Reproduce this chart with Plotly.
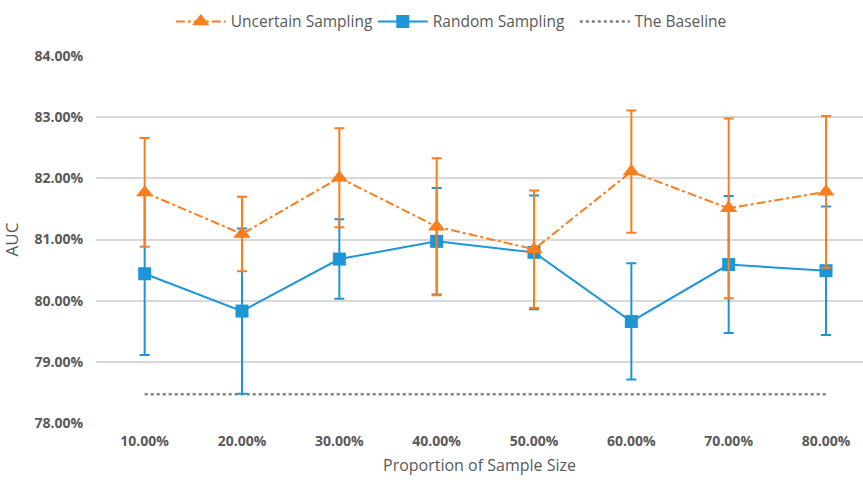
import plotly.graph_objects as go

categories = ["10.00%", "20.00%", "30.00%", "40.00%", "50.00%", "60.00%", "70.00%", "80.00%"]
uncertain = [81.77, 81.09, 82.01, 81.21, 80.84, 82.11, 81.51, 81.78]
uncertain_err = [0.89, 0.61, 0.81, 1.12, 0.96, 1.00, 1.47, 1.24]
random_s = [80.44, 79.83, 80.68, 80.97, 80.79, 79.66, 80.59, 80.49]
random_err = [1.33, 1.35, 0.65, 0.87, 0.93, 0.95, 1.12, 1.05]
baseline = [78.47] * 8
y_ticks = [78, 79, 80, 81, 82, 83, 84]
y_tick_labels = ["78.00%", "79.00%", "80.00%", "81.00%", "82.00%", "83.00%", "84.00%"]

ORANGE = "#FA7D1E"
BLUE = "#1E96D6"
GREY = "#7F7F7F"
TXT = "#595959"
FONT = "Open Sans"

fig = go.Figure()
fig.add_trace(go.Scatter(
    x=categories, y=baseline, name="The Baseline", mode="lines",
    line=dict(color=GREY, width=2.5, dash="dot"), legendrank=3))
fig.add_trace(go.Scatter(
    x=categories, y=random_s, name="Random Sampling", mode="lines+markers",
    line=dict(color=BLUE, width=2),
    marker=dict(symbol="square", size=13, color=BLUE),
    error_y=dict(type="data", array=random_err, color=BLUE, thickness=2, width=5),
    legendrank=2))
fig.add_trace(go.Scatter(
    x=categories, y=uncertain, name="Uncertain Sampling", mode="lines+markers",
    line=dict(color=ORANGE, width=2, dash="dashdot"),
    marker=dict(symbol="triangle-up", size=15, color=ORANGE),
    error_y=dict(type="data", array=uncertain_err, color=ORANGE, thickness=2, width=5),
    legendrank=1))

fig.update_layout(
    width=863, height=480,
    margin=dict(l=96, r=0, t=56, b=57),
    plot_bgcolor="white", paper_bgcolor="white",
    font=dict(family=FONT, size=14, color=TXT),
    showlegend=True,
    legend=dict(orientation="h", x=0.549, xanchor="center", y=0.99, yanchor="top",
                xref="container", yref="container",
                font=dict(size=15.5, color=TXT), itemwidth=50,
                entrywidth=137, entrywidthmode="pixels",
                bgcolor="rgba(0,0,0,0)"),
    xaxis=dict(type="category", range=[-0.5, 7.38], showgrid=False, showline=False,
               zeroline=False, ticks="", ticklabelstandoff=8,
               tickfont=dict(size=14, color=TXT, weight="bold"),
               title=dict(text="Proportion of Sample Size", font=dict(size=16, color=TXT), standoff=10)),
    yaxis=dict(range=[78, 84], tickvals=y_ticks, ticktext=y_tick_labels, showgrid=True,
               gridcolor="#D9D9D9", gridwidth=1.5, zeroline=False, showline=False,
               ticks="", ticklabelstandoff=12,
               tickfont=dict(size=14, color=TXT, weight="bold"),
               title=dict(text="AUC", font=dict(size=17, color=TXT), standoff=12)),
)

fig.write_html("out.html")
